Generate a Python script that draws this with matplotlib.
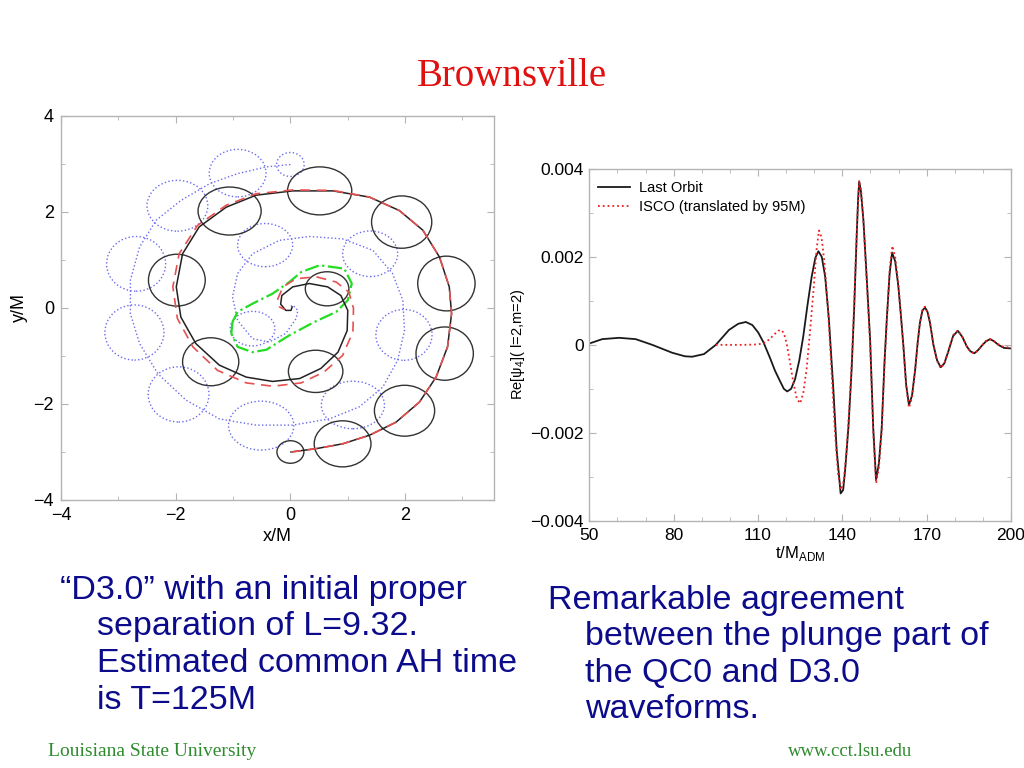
import numpy as np
import matplotlib
matplotlib.use("Agg")
import matplotlib.pyplot as plt
from matplotlib.patches import Ellipse
from matplotlib.ticker import MultipleLocator

# ---- left panel: puncture tracks (units of M) ----
black_x = [0.01, 0.45, 0.91, 1.38, 1.84, 2.25, 2.54, 2.74, 2.81, 2.77, 2.60, 2.31, 1.90, 1.38,
           0.74, 0.04, -0.60, -1.12, -1.59, -1.88, -1.99, -1.91, -1.65, -1.24, -0.77, -0.31,
           0.16, 0.53, 0.83, 0.99, 1.00, 0.88, 0.65, 0.33, 0.04, -0.15, -0.17, -0.08, 0.01, 0.03]
black_y = [-3.00, -2.93, -2.83, -2.65, -2.38, -1.96, -1.44, -0.81, -0.12, 0.44, 1.06, 1.62, 2.03,
           2.31, 2.44, 2.44, 2.35, 2.10, 1.69, 1.13, 0.44, -0.19, -0.74, -1.19, -1.44, -1.53,
           -1.47, -1.26, -0.92, -0.47, -0.05, 0.26, 0.44, 0.51, 0.44, 0.26, 0.08, -0.05, -0.05, 0.02]

red_x = [0.01, 0.45, 0.91, 1.38, 1.84, 2.25, 2.54, 2.74, 2.81, 2.77, 2.60, 2.31, 1.90, 1.38,
         0.74, 0.04, -0.60, -1.12, -1.62, -1.94, -2.05, -1.97, -1.70, -1.27, -0.77, -0.31,
         0.19, 0.59, 0.91, 1.09, 1.10, 1.02, 0.80, 0.45, 0.10, -0.13, -0.22, -0.19, -0.10]
red_y = [-3.00, -2.93, -2.83, -2.65, -2.38, -1.96, -1.44, -0.81, -0.12, 0.44, 1.06, 1.62, 2.03,
         2.31, 2.45, 2.46, 2.38, 2.14, 1.72, 1.13, 0.44, -0.22, -0.81, -1.30, -1.56, -1.63,
         -1.56, -1.33, -0.99, -0.50, -0.01, 0.33, 0.54, 0.65, 0.61, 0.44, 0.19, 0.02, -0.03]

blue_x = [0.00, -0.42, -0.92, -1.41, -1.91, -2.34, -2.63, -2.79, -2.79, -2.63, -2.31, -1.82,
          -1.24, -0.60, 0.04, 0.68, 1.20, 1.61, 1.87, 1.99, 1.96, 1.78, 1.44, 0.91, 0.33, -0.19,
          -0.66, -0.92, -1.01, -0.92, -0.66, -0.37, -0.08, 0.10, 0.13, 0.04, -0.01]
blue_y = [2.99, 2.94, 2.80, 2.59, 2.24, 1.83, 1.27, 0.58, -0.12, -0.74, -1.37, -1.92, -2.31,
          -2.44, -2.44, -2.31, -2.06, -1.65, -1.09, -0.47, 0.16, 0.72, 1.20, 1.44, 1.49, 1.41,
          1.13, 0.72, 0.23, -0.26, -0.64, -0.71, -0.53, -0.22, -0.05, 0.06, 0.02]

green_x = [-1.01, -1.03, -0.92, -0.66, -0.42, -0.02, 0.42, 0.80, 1.00, 1.07, 0.94, 0.51, 0.19,
           -0.02, -0.31, -0.66, -0.92, -1.01]
green_y = [-0.29, -0.53, -0.81, -0.92, -0.87, -0.57, -0.29, -0.08, 0.16, 0.51, 0.82, 0.89, 0.75,
           0.54, 0.30, 0.09, -0.08, -0.29]

# apparent horizons: centre x, centre y, width, height
ah_black = [(0.51, 2.44, 1.12, 1.00), (-1.06, 2.02, 1.10, 1.00), (-1.98, 0.58, 0.99, 1.08),
            (-1.39, -1.12, 0.98, 1.00), (0.44, -1.32, 0.95, 0.88), (0.64, 0.40, 0.76, 0.71),
            (1.94, 1.79, 1.05, 1.09), (2.72, 0.51, 1.00, 1.14), (2.69, -0.95, 1.00, 1.11),
            (1.99, -2.14, 1.05, 1.06), (0.91, -2.83, 0.99, 0.96), (0.00, -3.00, 0.47, 0.47)]
ah_blue = [(0.00, 2.99, 0.48, 0.50), (-0.92, 2.81, 0.99, 0.99), (-1.97, 2.13, 1.06, 1.06),
           (-2.69, 0.92, 1.03, 1.14), (-2.72, -0.51, 1.03, 1.15), (-1.95, -1.80, 1.06, 1.15),
           (-0.51, -2.45, 1.14, 1.02), (1.09, -2.02, 1.10, 0.99), (1.98, -0.56, 0.98, 1.06),
           (1.39, 1.13, 0.96, 0.95), (-0.44, 1.31, 0.96, 0.90), (-0.66, -0.43, 0.78, 0.72)]

# ---- right panel: Re[psi4] (units of 1e-3) ----
t_last = [50, 54.6, 60.6, 66.5, 72.4, 79.5, 84, 86.6, 90.8, 95.0, 99.7, 103, 105.7, 108, 110.1,
          112, 114.3, 116, 117.8, 119.2, 120.4, 121.8, 123.2, 124.7, 126.1, 127.6, 129.1, 130.4,
          131.5, 132.7, 133.9, 135.2, 136.8, 138.0, 139.4, 140.3, 141.0, 142.2, 143.3, 144.2,
          145.1, 145.6, 146.0, 146.6, 147.5, 148.7, 149.9, 151.0, 152.0, 153.0, 154.0, 155.0,
          155.8, 156.8, 157.7, 158.8, 159.9, 160.8, 161.7, 162.7, 163.7, 164.8, 165.9, 166.8,
          167.6, 168.5, 169.4, 170.3, 171.2, 172.4, 173.7, 175.0, 176.3, 177.7, 179.4, 181.1,
          182.7, 184.3, 185.6, 187.0, 188.3, 189.6, 191.1, 192.6, 194.0, 195.5, 197.5, 199.7]
psi_last = [0.03, 0.13, 0.16, 0.13, 0.0, -0.18, -0.26, -0.27, -0.21, 0.0, 0.34, 0.48, 0.52, 0.45,
            0.28, 0.05, -0.30, -0.58, -0.82, -1.00, -1.06, -1.00, -0.78, -0.35, 0.19, 0.90, 1.55,
            1.98, 2.13, 2.00, 1.55, 0.60, -1.00, -2.40, -3.38, -3.30, -2.85, -1.85, -0.57, 0.80,
            2.46, 3.30, 3.72, 3.50, 2.84, 1.50, 0.10, -1.90, -3.07, -2.70, -1.90, -0.40, 0.57,
            1.60, 2.10, 1.90, 1.35, 0.70, 0.0, -0.90, -1.37, -1.15, -0.57, 0.05, 0.50, 0.78, 0.85,
            0.75, 0.50, 0.0, -0.35, -0.51, -0.42, -0.15, 0.20, 0.32, 0.18, -0.04, -0.15, -0.19,
            -0.12, -0.02, 0.08, 0.13, 0.08, 0.0, -0.07, -0.08]

t_isco = [95, 100, 105, 110, 112, 114, 116, 117.2, 118.2, 119.2, 120.2, 121.4, 122.6, 123.8,
          125.0, 126.1, 127.3, 128.5, 129.7, 130.8, 131.7, 132.6, 133.6, 134.8, 136.0, 137.4,
          138.5, 139.5, 140.5, 141.5, 142.5, 143.5, 144.4, 145.2, 146.0, 146.7, 147.5, 148.7,
          149.9, 151.0, 152.0, 153.0, 154.0, 155.0, 155.9, 156.8, 157.8, 158.8, 159.9, 160.8,
          161.7, 162.7, 163.7, 164.8, 165.9, 166.8, 167.6, 168.5, 169.4, 170.3, 171.2, 172.4,
          173.7, 175.0, 176.3, 177.7, 179.4, 181.1, 182.7, 184.3, 185.6, 187.0, 188.3, 189.6,
          191.1, 192.6, 194.0, 195.5, 197.5, 199.7]
psi_isco = [0.0, 0.0, 0.0, 0.01, 0.04, 0.12, 0.25, 0.32, 0.34, 0.27, 0.03, -0.40, -0.87, -1.22,
            -1.33, -1.10, -0.55, 0.30, 1.20, 2.15, 2.60, 2.45, 1.90, 0.90, -0.40, -2.00, -2.95,
            -3.30, -3.10, -2.40, -1.40, -0.20, 1.30, 2.70, 3.74, 3.50, 2.80, 1.40, 0.0, -2.00,
            -3.15, -2.80, -1.95, -0.45, 0.60, 1.70, 2.25, 2.00, 1.40, 0.70, -0.05, -0.95, -1.43,
            -1.20, -0.57, 0.05, 0.50, 0.80, 0.87, 0.75, 0.50, 0.0, -0.37, -0.53, -0.42, -0.14,
            0.22, 0.33, 0.18, -0.04, -0.16, -0.20, -0.12, -0.02, 0.09, 0.13, 0.08, 0.01, -0.05,
            -0.06]

left_text = ["\u201cD3.0\u201d with an initial proper", "separation of L=9.32.",
             "Estimated common AH time", "is T=125M"]
right_text = ["Remarkable agreement", "between the plunge part of",
              "the QC0 and D3.0", "waveforms."]

W, H = 1024, 768
navy = "#0b0b8c"
grey = "#b4b4b4"

plt.rcParams["font.family"] = ["Liberation Sans", "DejaVu Sans"]
fig = plt.figure(figsize=(W / 100, H / 100), dpi=100)


def px(x, y):
    return x / W, 1 - y / H


def style_axes(ax, size):
    for s in ax.spines.values():
        s.set_color(grey)
        s.set_linewidth(1.0)
    ax.tick_params(which="both", direction="in", top=True, right=True, color=grey,
                   labelsize=size, pad=5)
    ax.tick_params(which="major", length=5)
    ax.tick_params(which="minor", length=3)


# left: orbits
ax1 = fig.add_axes([61 / W, 1 - 500 / H, 433 / W, 384 / H])
for cx, cy, w, h in ah_blue:
    ax1.add_patch(Ellipse((cx, cy), w, h, fill=False, ec="#6a6af0", ls=":", lw=1.0))
for cx, cy, w, h in ah_black:
    ax1.add_patch(Ellipse((cx, cy), w, h, fill=False, ec="#333333", lw=1.0))
ax1.plot(blue_x, blue_y, color="#6a6af0", ls=":", lw=1.0)
ax1.plot(green_x, green_y, color="#22dd22", ls="-.", lw=1.6)
ax1.plot(black_x, black_y, color="#222222", lw=1.1)
ax1.plot(red_x, red_y, color="#e85050", ls=(0, (6, 4)), lw=1.2)
ax1.set_xlim(-4, 3.55)
ax1.set_ylim(-4, 4)
ax1.xaxis.set_major_locator(MultipleLocator(2))
ax1.xaxis.set_minor_locator(MultipleLocator(1))
ax1.yaxis.set_major_locator(MultipleLocator(2))
ax1.yaxis.set_minor_locator(MultipleLocator(1))
style_axes(ax1, 13)
ax1.set_xlabel("x/M", fontsize=13, labelpad=3)
ax1.set_ylabel("y/M", fontsize=13, labelpad=4)

# right: waveforms
ax2 = fig.add_axes([589.3 / W, 1 - 520.7 / H, 421.7 / W, 351.7 / H])
ax2.plot(t_last, np.array(psi_last) * 1e-3, color="#1a1a1a", lw=1.3, label="Last Orbit")
ax2.plot(t_isco, np.array(psi_isco) * 1e-3, color="#ee2020", ls=":", lw=1.3,
         label="ISCO (translated by 95M)")
ax2.set_xlim(50, 200)
ax2.set_ylim(-0.004, 0.004)
ax2.set_xticks([50, 80, 110, 140, 170, 200])
ax2.xaxis.set_minor_locator(MultipleLocator(10))
ax2.set_yticks([-0.004, -0.002, 0, 0.002, 0.004])
ax2.set_yticklabels(["\u22120.004", "\u22120.002", "0", "0.002", "0.004"])
ax2.yaxis.set_minor_locator(MultipleLocator(0.001))
style_axes(ax2, 12.5)
ax2.tick_params(axis="y", pad=4)
ax2.set_xlabel(r"t/M$_{\mathregular{ADM}}$", fontsize=12, labelpad=1)
ax2.set_ylabel(r"Re[$\mathregular{\psi_4}$]( l=2,m=2)", fontsize=10.5, labelpad=2)
ax2.legend(loc="upper left", bbox_to_anchor=(0.0, 0.99), frameon=False, fontsize=10.5,
           handlelength=2.2, handletextpad=0.6, labelspacing=0.3, borderaxespad=0.2)

# slide texts
fig.text(*px(512, 76), "Brownsville", color="#e01010", fontsize=28,
         family="Liberation Serif", ha="center", va="center")
for i, line in enumerate(left_text):
    x0 = 60 if i == 0 else 97
    fig.text(*px(x0, 590 + 36.7 * i), line, color=navy, fontsize=24.5, ha="left", va="center")
for i, line in enumerate(right_text):
    x0 = 548 if i == 0 else 585
    fig.text(*px(x0, 600 + 36.5 * i), line, color=navy, fontsize=24.5, ha="left", va="center")
fig.text(*px(48, 752), "Louisiana State University", color="#2e8b2e", fontsize=14,
         family="Liberation Serif", ha="left", va="center")
fig.text(*px(912, 752), "www.cct.lsu.edu", color="#2e8b2e", fontsize=13.5,
         family="Liberation Serif", ha="right", va="center")

fig.savefig("out.png", dpi=100)
